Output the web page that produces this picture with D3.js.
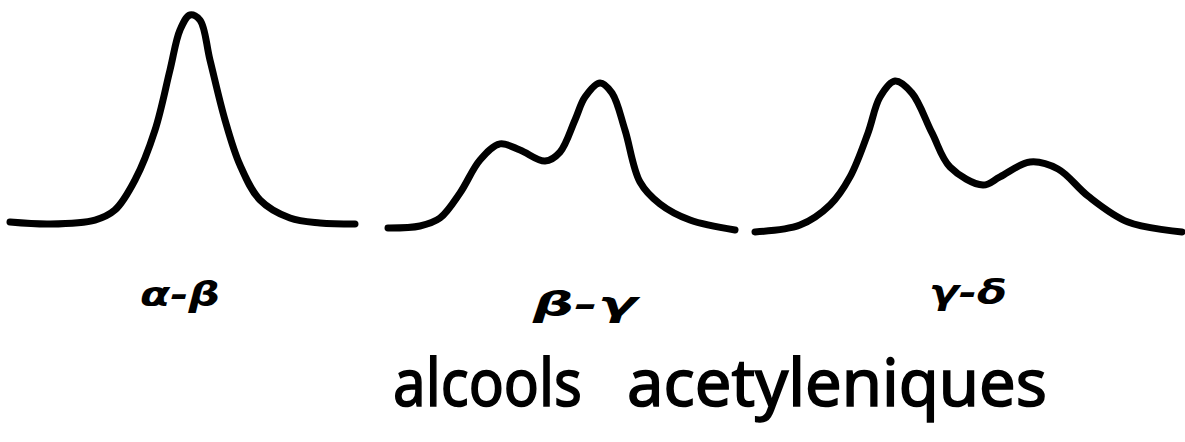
<!DOCTYPE html>
<html>
<head>
<meta charset="utf-8">
<script src="https://cdn.jsdelivr.net/npm/d3@7"></script>
<style>
  html, body { margin: 0; padding: 0; background: #fff; }
  svg { display: block; }
</style>
</head>
<body>
<svg id="chart" width="1185" height="442"></svg>
<script>
// positions along the trace (tenths of page width) and relative intensity
let alphaBetaX = [1, 5, 9.5, 11.5, 13.5, 15.5, 17, 18, 19, 20, 21, 22.5, 24, 26, 29, 32, 35.5];
let alphaBetaY = [5.9, 5, 6.8, 11.4, 25, 47.7, 75, 93.2, 100, 97.7, 79.5, 52.3, 31.8, 15.9, 7.7, 5.5, 5];

let betaGammaX = [38.8, 42, 44, 46, 48, 50, 52, 54.5, 56, 57.5, 58.5, 60, 61.2, 62.5, 64, 66, 69, 73.5];
let betaGammaY = [3.2, 4.1, 7.7, 19.1, 34.1, 41.4, 38.6, 33.6, 37.7, 52.3, 62.7, 69.1, 64.5, 47.7, 24.1, 14.1, 6.8, 2.3];

let gammaDeltaX = [75.5, 80, 83, 85, 86.8, 88, 89.5, 91.2, 93.2, 95, 98.3, 100, 103, 105.8, 108.8, 112.8, 118.2];
let gammaDeltaY = [1.4, 4.5, 13.6, 26.4, 46.4, 62.7, 70, 64.5, 46.4, 30.9, 22.7, 26.4, 33.2, 30, 17.7, 5.9, 1.4];

let labels = ['α-β', 'β-γ', 'γ-δ'];
let titleWords = ['alcools', 'acetyleniques'];

// layout of the hand-written text
let labelLayout = [
    { x: 18, y: 306, w: 80 },
    { x: 58.5, y: 316, w: 104 },
    { x: 96.8, y: 304, w: 78 }
];
let titleLayout = [
    { x: 39.3, w: 189 },
    { x: 62.7, w: 420 }
];

let svg = d3.select('#chart');

let x = d3.scaleLinear().domain([0, 118.5]).range([0, 1185]);
let y = d3.scaleLinear().domain([0, 100]).range([235, 15]);

let traces = [
    { xs: alphaBetaX, ys: alphaBetaY },
    { xs: betaGammaX, ys: betaGammaY },
    { xs: gammaDeltaX, ys: gammaDeltaY }
];

let line = d3.line()
    .x((d) => x(d[0]))
    .y((d) => y(d[1]))
    .curve(d3.curveCatmullRom.alpha(0.5));

svg.selectAll('path.trace')
    .data(traces)
    .enter()
    .append('path')
    .attr('class', 'trace')
    .attr('d', (t) => line(d3.zip(t.xs, t.ys)))
    .attr('fill', 'none')
    .attr('stroke', '#000')
    .attr('stroke-width', 7)
    .attr('stroke-linecap', 'round')
    .attr('stroke-linejoin', 'round');

svg.selectAll('text.label')
    .data(labels)
    .enter()
    .append('text')
    .attr('class', 'label')
    .attr('x', (d, i) => x(labelLayout[i].x))
    .attr('y', (d, i) => labelLayout[i].y)
    .attr('text-anchor', 'middle')
    .attr('textLength', (d, i) => labelLayout[i].w)
    .attr('lengthAdjust', 'spacingAndGlyphs')
    .attr('font-family', 'DejaVu Sans')
    .attr('font-style', 'italic')
    .attr('font-weight', 'bold')
    .attr('font-size', 33)
    .text((d) => d);

svg.selectAll('text.title')
    .data(titleWords)
    .enter()
    .append('text')
    .attr('class', 'title')
    .attr('x', (d, i) => x(titleLayout[i].x))
    .attr('y', 406)
    .attr('textLength', (d, i) => titleLayout[i].w)
    .attr('lengthAdjust', 'spacingAndGlyphs')
    .attr('font-family', 'Noto Sans')
    .attr('font-size', 66)
    .attr('fill', '#000')
    .attr('stroke', '#000')
    .attr('stroke-width', 1.6)
    .text((d) => d);
</script>
</body>
</html>
